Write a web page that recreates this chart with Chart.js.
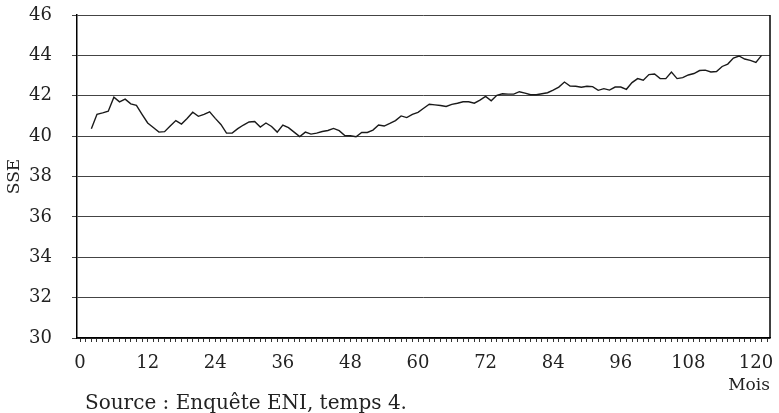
<!DOCTYPE html>
<html>
<head>
<meta charset="utf-8">
<script src="https://cdn.jsdelivr.net/npm/chart.js@4.4.0/dist/chart.umd.min.js"></script>
<style>
    html, body { margin: 0; padding: 0; background: #fff; }
    #wrap { width: 779px; height: 413px; }
</style>
</head>
<body>
<div id="wrap"><canvas id="sseChart" width="779" height="413"></canvas></div>
<script>
// first month of the series (x position of the first value)
const startMonth = 2;

// SSE per month
const sseValues = [
    40.37, 41.08, 41.15, 41.23, 41.93, 41.70, 41.83, 41.60, 41.52, 41.08,
    40.65, 40.43, 40.20, 40.22, 40.50, 40.77, 40.60, 40.87, 41.18, 40.98,
    41.08, 41.20, 40.88, 40.58, 40.15, 40.15, 40.37, 40.55, 40.70, 40.72,
    40.45, 40.65, 40.48, 40.20, 40.55, 40.42, 40.20, 39.98, 40.20, 40.10,
    40.15, 40.23, 40.28, 40.38, 40.27, 40.03, 40.02, 39.97, 40.18, 40.18,
    40.30, 40.55, 40.50, 40.63, 40.77, 41.00, 40.92, 41.08, 41.18, 41.38,
    41.58, 41.55, 41.52, 41.47, 41.57, 41.63, 41.70, 41.70, 41.63, 41.78,
    41.97, 41.75, 42.02, 42.10, 42.08, 42.08, 42.20, 42.13, 42.05, 42.05,
    42.10, 42.15, 42.28, 42.43, 42.68, 42.48, 42.47, 42.42, 42.47, 42.45,
    42.27, 42.35, 42.28, 42.43, 42.43, 42.32, 42.65, 42.85, 42.77, 43.05,
    43.08, 42.85, 42.85, 43.17, 42.85, 42.90, 43.03, 43.10, 43.25, 43.27,
    43.18, 43.20, 43.45, 43.57, 43.87, 43.97, 43.82, 43.75, 43.65, 44.00
];

const xTickLabels = [0, 12, 24, 36, 48, 60, 72, 84, 96, 108, 120];
const xMinorLast = 122;
const yTicks = [30, 32, 34, 36, 38, 40, 42, 44, 46];

const yTitle = "SSE";
const xTitle = "Mois";
const sourceNote = "Source : Enquête ENI, temps 4.";

const serif = "'DejaVu Serif', 'Liberation Serif', serif";
const textColor = "#222";

// right border of the plot + the source line under the chart
const framePlugin = {
    id: "frame",
    afterDraw(chart) {
        const { ctx, chartArea } = chart;
        ctx.save();
        ctx.strokeStyle = "#000";
        ctx.lineWidth = 1.5;
        ctx.beginPath();
        ctx.moveTo(chartArea.right, chartArea.top);
        ctx.lineTo(chartArea.right, chartArea.bottom);
        ctx.stroke();

        ctx.fillStyle = textColor;
        ctx.font = "20px " + serif;
        ctx.textBaseline = "alphabetic";
        ctx.textAlign = "left";
        ctx.fillText(sourceNote, 85, 409);
        ctx.restore();
    }
};

function drawChart() {
    const points = sseValues.map((v, i) => ({ x: startMonth + i, y: v }));

    new Chart(document.getElementById("sseChart").getContext("2d"), {
        type: "line",
        data: {
            datasets: [{
                data: points,
                borderColor: "#1a1a1a",
                borderWidth: 1.4,
                pointRadius: 0,
                tension: 0,
                fill: false
            }]
        },
        options: {
            responsive: false,
            animation: false,
            devicePixelRatio: 1,
            layout: { padding: { left: 0, top: 0, right: 9, bottom: 0 } },
            plugins: {
                legend: { display: false },
                tooltip: { enabled: false }
            },
            scales: {
                x: {
                    type: "linear",
                    min: -0.55,
                    max: 122.5,
                    afterBuildTicks(scale) {
                        const ticks = [];
                        for (let m = 0; m <= xMinorLast; m++) ticks.push({ value: m });
                        scale.ticks = ticks;
                    },
                    afterFit(scale) { scale.height = 75; },
                    grid: {
                        drawOnChartArea: false,
                        drawTicks: true,
                        tickLength: 4,
                        color: "#333",
                        lineWidth: 1
                    },
                    border: { color: "#000", width: 1.5 },
                    ticks: {
                        autoSkip: false,
                        maxRotation: 0,
                        padding: 11,
                        color: textColor,
                        font: { family: serif, size: 18 },
                        callback: (value) => xTickLabels.includes(value) ? String(value) : ""
                    },
                    title: {
                        display: true,
                        text: xTitle,
                        align: "end",
                        color: textColor,
                        font: { family: serif, size: 17 },
                        padding: { top: 0, bottom: 17 }
                    }
                },
                y: {
                    min: 30,
                    max: 46,
                    afterBuildTicks(scale) {
                        scale.ticks = yTicks.map(v => ({ value: v }));
                    },
                    afterFit(scale) {
                        scale.width = 77;
                        // the label padding would otherwise push the plot down
                        scale.paddingTop = 15;
                        scale.paddingBottom = 10;
                    },
                    grid: {
                        color: "#444",
                        lineWidth: 1,
                        tickLength: 5
                    },
                    border: { color: "#000", width: 1.5 },
                    ticks: {
                        padding: 20,
                        color: textColor,
                        font: { family: serif, size: 18 }
                    },
                    title: {
                        display: true,
                        text: yTitle,
                        color: textColor,
                        font: { family: serif, size: 17 },
                        padding: { top: 4, bottom: 0 }
                    }
                }
            }
        },
        plugins: [framePlugin]
    });
}

drawChart();
</script>
</body>
</html>
